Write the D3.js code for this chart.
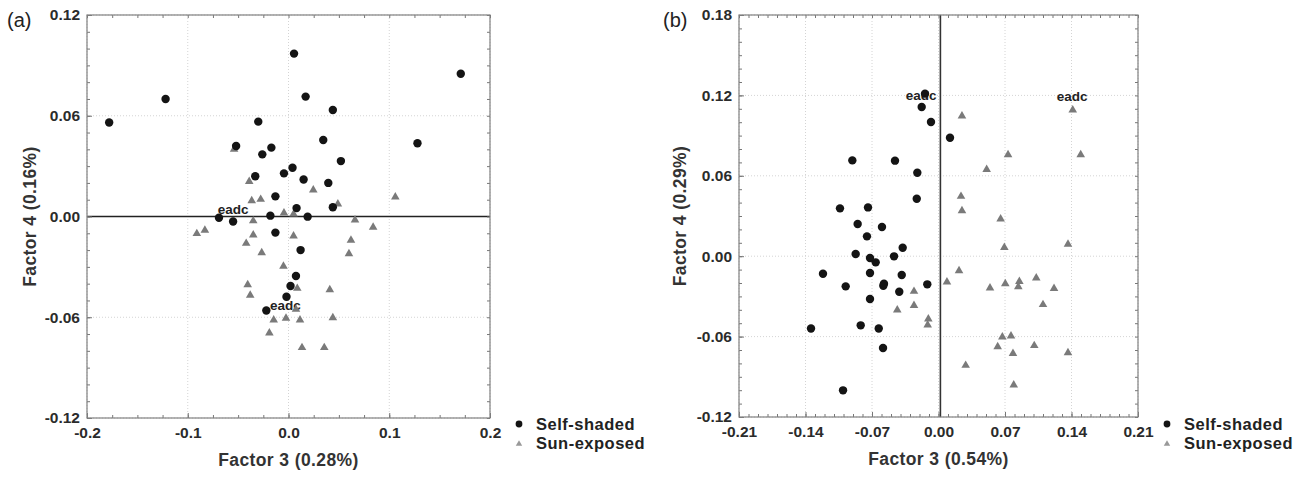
<!DOCTYPE html>
<html>
<head>
<meta charset="utf-8">
<script src="https://cdn.jsdelivr.net/npm/d3@7/dist/d3.min.js"></script>
<style>
    body { margin: 0; background: #fff; }
    text { font-family: "Liberation Sans", Arial, sans-serif; }
</style>
</head>
<body>
<svg id="chart" width="1310" height="477"></svg>
<script>
// --- data ---
const selfShadedA = [
    [-0.178, 0.056], [-0.122, 0.070], [-0.030, 0.0565], [-0.052, 0.042], [-0.017, 0.041],
    [-0.026, 0.037], [0.004, 0.029], [-0.0045, 0.0257], [-0.033, 0.024], [-0.013, 0.012],
    [-0.069, -0.0007], [-0.055, -0.003], [-0.018, 0.0005], [-0.013, -0.0096], [0.002, -0.0414],
    [-0.002, -0.0478], [-0.022, -0.056], [0.0055, 0.097], [0.171, 0.085], [0.017, 0.0714],
    [0.044, 0.0634], [0.0345, 0.0456], [0.128, 0.0436], [0.052, 0.033], [0.015, 0.022],
    [0.0395, 0.020], [0.008, 0.005], [0.019, -0.0001], [0.044, 0.0055], [0.012, -0.020],
    [0.0074, -0.0354]
];
const sunExposedA = [
    [-0.054, 0.0406], [-0.039, 0.0214], [-0.0365, 0.010], [-0.0276, 0.0108], [-0.0045, 0.0027],
    [-0.035, -0.002], [-0.091, -0.0096], [-0.083, -0.0076], [-0.035, -0.0104], [-0.042, -0.0154],
    [-0.0266, -0.021], [-0.005, -0.029], [-0.0405, -0.040], [-0.038, -0.0463], [-0.0147, -0.061],
    [-0.0025, -0.060], [-0.019, -0.0688], [0.005, 0.002], [0.049, 0.008], [0.066, -0.0015],
    [0.084, -0.0058], [0.005, -0.011], [0.062, -0.0136], [0.060, -0.0216], [0.0087, -0.0422],
    [0.041, -0.043], [0.0074, -0.0547], [0.0114, -0.061], [0.044, -0.0597], [0.0134, -0.0775],
    [0.0355, -0.0775], [0.0246, 0.0164], [0.106, 0.0122]
];
const selfShadedB = [
    [-0.0142, 0.1213], [-0.0177, 0.1113], [-0.0079, 0.1001], [-0.0907, 0.0715], [-0.0458, 0.0713],
    [-0.0223, 0.0623], [-0.0229, 0.0429], [-0.1037, 0.0357], [-0.0742, 0.0364], [0.0121, 0.0884],
    [-0.0851, 0.024], [-0.0595, 0.0218], [-0.0753, 0.0148], [-0.0377, 0.0063], [-0.0872, 0.0016],
    [-0.0721, -0.0013], [-0.0468, -0.0001], [-0.0661, -0.0046], [-0.1216, -0.0131], [-0.0721, -0.0125],
    [-0.0387, -0.014], [-0.0977, -0.0225], [-0.0581, -0.022], [-0.0574, -0.0205], [-0.0118, -0.021],
    [-0.0413, -0.0265], [-0.0721, -0.0319], [-0.1342, -0.0539], [-0.0819, -0.0516], [-0.0629, -0.0539],
    [-0.0584, -0.0685], [-0.1005, -0.1001]
];
const sunExposedB = [
    [-0.0258, -0.0255], [-0.0434, -0.0394], [-0.0258, -0.036], [-0.0107, -0.0461], [-0.0114, -0.0506],
    [0.0247, 0.1054], [0.1413, 0.1099], [0.0732, 0.0765], [0.1497, 0.0765], [0.0507, 0.0655],
    [0.0237, 0.0454], [0.0247, 0.0347], [0.0654, 0.0285], [0.0693, 0.0073], [0.1363, 0.0096],
    [0.0216, -0.0101], [0.0089, -0.0185], [0.0542, -0.023], [0.0703, -0.0198], [0.0851, -0.0181],
    [0.084, -0.022], [0.1029, -0.0155], [0.1216, -0.0233], [0.11, -0.0354], [0.0672, -0.0596],
    [0.0763, -0.0588], [0.0623, -0.0668], [0.0784, -0.0718], [0.1008, -0.066], [0.1363, -0.0713],
    [0.0286, -0.0807], [0.0792, -0.0954]
];

// "eadc" annotations: [x, y, text] (text start / baseline in data units)
const labelsA = [[-0.0703, 0.0012, "eadc"], [-0.0184, -0.0557, "eadc"]];
const labelsB = [[-0.0345, 0.1164, "eadc"], [0.1244, 0.1160, "eadc"]];

// tick values
const xTicksA = [-0.2, -0.1, 0, 0.1, 0.2];
const yTicksA = [0.12, 0.06, 0, -0.06, -0.12];
const xTicksB = [-0.21, -0.14, -0.07, 0, 0.07, 0.14, 0.21];
const yTicksB = [0.18, 0.12, 0.06, 0, -0.06, -0.12];

const legendNames = ["Self-shaded", "Sun-exposed"];

const svg = d3.select("#chart");
const triangle = d3.symbol().type(d3.symbolTriangle).size(32);
const FONT = "Liberation Sans, Arial, sans-serif";

function drawPanel(cfg) {
    const x = d3.scaleLinear().domain(cfg.xDomain).range([cfg.left, cfg.right]);
    const y = d3.scaleLinear().domain(cfg.yDomain).range([cfg.bottom, cfg.top]);
    const g = svg.append("g");

    // dotted grid at major ticks
    g.selectAll(".gx").data(cfg.xTicks).enter().append("line")
        .attr("x1", d => x(d)).attr("x2", d => x(d))
        .attr("y1", cfg.top).attr("y2", cfg.bottom)
        .attr("stroke", "#d4d4d4").attr("stroke-dasharray", "1,2");
    g.selectAll(".gy").data(cfg.yTicks).enter().append("line")
        .attr("x1", cfg.left).attr("x2", cfg.right)
        .attr("y1", d => y(d)).attr("y2", d => y(d))
        .attr("stroke", "#d4d4d4").attr("stroke-dasharray", "1,2");

    // solid reference line
    if (cfg.hLine !== undefined) {
        g.append("line").attr("x1", cfg.left).attr("x2", cfg.right)
            .attr("y1", y(cfg.hLine)).attr("y2", y(cfg.hLine))
            .attr("stroke", "#222").attr("stroke-width", 1.6);
    }
    if (cfg.vLine !== undefined) {
        g.append("line").attr("x1", x(cfg.vLine)).attr("x2", x(cfg.vLine))
            .attr("y1", cfg.top).attr("y2", cfg.bottom)
            .attr("stroke", "#333").attr("stroke-width", 1.6);
    }

    // minor ticks on all four sides (inward)
    const xMinor = d3.range(cfg.xDomain[0], cfg.xDomain[1] + 1e-9, cfg.xMinorStep);
    const yMinor = d3.range(cfg.yDomain[0], cfg.yDomain[1] + 1e-9, cfg.yMinorStep);
    const minorAxes = [
        [d3.axisBottom(x).tickValues(xMinor), `translate(0,${cfg.bottom})`],
        [d3.axisTop(x).tickValues(xMinor), `translate(0,${cfg.top})`],
        [d3.axisLeft(y).tickValues(yMinor), `translate(${cfg.left},0)`],
        [d3.axisRight(y).tickValues(yMinor), `translate(${cfg.right},0)`]
    ];
    minorAxes.forEach(([ax, tr]) => {
        g.append("g").attr("transform", tr)
            .call(ax.tickSize(-3).tickFormat(""))
            .call(s => s.select(".domain").remove())
            .call(s => s.selectAll("line").attr("stroke", "#777"));
    });

    // major axes with labels
    const styleAxis = s => {
        s.select(".domain").remove();
        s.selectAll("line").attr("stroke", "#777");
        s.selectAll("text").attr("font-size", 15.5).attr("font-weight", "bold")
            .attr("fill", "#2b2b2b").attr("font-family", FONT);
    };
    g.append("g").attr("transform", `translate(0,${cfg.bottom})`)
        .call(d3.axisBottom(x).tickValues(cfg.xTicks).tickSize(-5).tickPadding(9)
            .tickFormat(d => d3.format(cfg.xFmt)(d).replace("−", "-")))
        .call(styleAxis);
    g.append("g").attr("transform", `translate(${cfg.left},0)`)
        .call(d3.axisLeft(y).tickValues(cfg.yTicks).tickSize(-5).tickPadding(7)
            .tickFormat(d => d3.format(".2f")(d).replace("−", "-")))
        .call(styleAxis);

    // frame
    g.append("rect").attr("x", cfg.left).attr("y", cfg.top)
        .attr("width", cfg.right - cfg.left).attr("height", cfg.bottom - cfg.top)
        .attr("fill", "none").attr("stroke", "#808080").attr("stroke-width", 1.2);

    // annotations (drawn under the markers)
    g.selectAll(".lab").data(cfg.labels).enter().append("text")
        .attr("x", d => x(d[0])).attr("y", d => y(d[1]))
        .attr("font-size", 13.5).attr("font-weight", "bold").attr("fill", "#222")
        .text(d => d[2]);

    // markers
    g.selectAll(".sun").data(cfg.sun).enter().append("path")
        .attr("d", triangle)
        .attr("transform", d => `translate(${x(d[0])},${y(d[1]) + 1})`)
        .attr("fill", "#7a7a7a");
    g.selectAll(".shade").data(cfg.shade).enter().append("circle")
        .attr("cx", d => x(d[0])).attr("cy", d => y(d[1])).attr("r", 4.2)
        .attr("fill", "#141414");

    // axis titles
    g.append("text").attr("x", (cfg.left + cfg.right) / 2).attr("y", cfg.bottom + 48)
        .attr("text-anchor", "middle").attr("font-size", 17.5).attr("font-weight", "bold")
        .attr("letter-spacing", 0.4).attr("fill", "#333").text(cfg.xTitle);
    g.append("text")
        .attr("transform", `translate(${cfg.yTitleX},${(cfg.top + cfg.bottom) / 2}) rotate(-90)`)
        .attr("text-anchor", "middle").attr("font-size", 17.5).attr("font-weight", "bold")
        .attr("letter-spacing", 0.4).attr("fill", "#333").text(cfg.yTitle);

    // panel tag
    g.append("text").attr("x", cfg.tagX).attr("y", 27)
        .attr("font-size", 20).attr("fill", "#222").text(cfg.tag);

    // legend
    const lg = g.append("g").attr("transform", `translate(${cfg.right + 29},424)`);
    lg.append("circle").attr("cx", 0).attr("cy", 0).attr("r", 3.4).attr("fill", "#141414");
    lg.append("path").attr("d", d3.symbol().type(d3.symbolTriangle).size(18))
        .attr("transform", "translate(0,20)").attr("fill", "#999");
    lg.selectAll("text").data(legendNames).enter().append("text")
        .attr("x", 17).attr("y", (d, i) => i * 19)
        .attr("dy", "0.35em").attr("font-size", 16.5).attr("font-weight", "bold")
        .attr("letter-spacing", 0.5).attr("fill", "#222").text(d => d);
}

drawPanel({
    left: 87, right: 490, top: 15, bottom: 418,
    xDomain: [-0.2, 0.2], yDomain: [-0.12, 0.12],
    xTicks: xTicksA, yTicks: yTicksA,
    xMinorStep: 0.025, yMinorStep: 0.01,
    xFmt: ".1f",
    hLine: 0,
    shade: selfShadedA, sun: sunExposedA, labels: labelsA,
    xTitle: "Factor 3 (0.28%)", yTitle: "Factor 4 (0.16%)", yTitleX: 36,
    tag: "(a)", tagX: 7
});

drawPanel({
    left: 739, right: 1138, top: 15, bottom: 417,
    xDomain: [-0.21, 0.21], yDomain: [-0.12, 0.18],
    xTicks: xTicksB, yTicks: yTicksB,
    xMinorStep: 0.01, yMinorStep: 0.01,
    xFmt: ".2f",
    vLine: 0.002,
    shade: selfShadedB, sun: sunExposedB, labels: labelsB,
    xTitle: "Factor 3 (0.54%)", yTitle: "Factor 4 (0.29%)", yTitleX: 686,
    tag: "(b)", tagX: 663
});
</script>
</body>
</html>
